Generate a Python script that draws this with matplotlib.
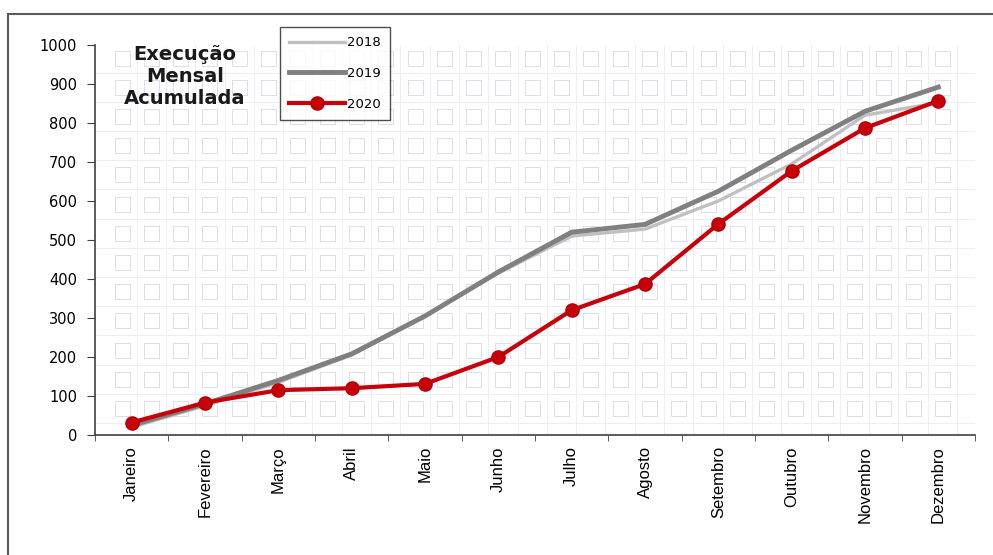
import numpy as np
import matplotlib.pyplot as plt
from matplotlib.patches import Rectangle

# Monthly accumulated execution
meses = ["Janeiro", "Fevereiro", "Março", "Abril", "Maio", "Junho",
         "Julho", "Agosto", "Setembro", "Outubro", "Novembro", "Dezembro"]
v2018 = [20, 75, 135, 205, 305, 415, 510, 528, 600, 695, 820, 852]
v2019 = [25, 80, 140, 208, 305, 418, 520, 540, 625, 730, 830, 892]
v2020 = [32, 83, 115, 120, 131, 200, 320, 387, 541, 677, 787, 857]

fig = plt.figure(figsize=(9.93, 5.55), dpi=100)
ax = fig.add_axes([95 / 993, 1 - 435 / 555, 880 / 993, 390 / 555])

# outer frame (open to the right and bottom)
fig.patches.append(Rectangle((8 / 993, -0.1), 1.2, 1.1 - 14 / 555,
                             transform=fig.transFigure, fill=False,
                             edgecolor="#5a5a5a", lw=1.5))

# faint square-pattern background
W, H = 880, 390
tex = np.ones((H, W, 3))
lav = np.array([0.87, 0.87, 0.94])
period_x, period_y, sq = 29.3, 29.2, 15
for cx in np.arange(20, W - sq - 1, period_x):
    for cy in np.arange(6, H - sq - 10, period_y):
        x0, y0 = int(cx), int(cy)
        tex[y0:y0 + sq, x0] = lav
        tex[y0:y0 + sq, x0 + sq] = lav
        tex[y0, x0:x0 + sq + 1] = lav
        tex[y0 + sq, x0:x0 + sq + 1] = lav
for cx in np.arange(20 + sq / 2 + period_x / 2, W, period_x):
    tex[:, int(cx)] = np.array([0.93, 0.93, 0.97])
for cy in np.arange(6 + sq / 2 + period_y / 2, H - 10, period_y):
    tex[int(cy), :] = np.array([0.93, 0.93, 0.97])
ax.imshow(tex, extent=(-0.5, 11.5, 0, 1000), aspect="auto",
          interpolation="nearest", zorder=0)

x = np.arange(len(meses))
ax.plot(x, v2018, color="#c0c0c0", lw=2.4, label="2018", zorder=2)
ax.plot(x, v2019, color="#808080", lw=3.5, label="2019", zorder=3)
ax.plot(x, v2020, color="#c8000a", lw=3, marker="o", markersize=9.5,
        markeredgecolor="#b00008", label="2020", zorder=4)

ax.set_xlim(-0.5, 11.5)
ax.set_ylim(0, 1000)
ax.set_yticks(range(0, 1001, 100))
ax.set_xticks(x)
ax.set_xticklabels(meses, rotation=90, fontsize=12, family="Liberation Sans")
ax.set_xticks(np.arange(-0.5, 12, 1), minor=True)
ax.tick_params(axis="x", which="major", length=0, pad=8)
ax.tick_params(axis="x", which="minor", length=4, direction="out", color="#404040")
ax.tick_params(axis="y", length=6, direction="out", color="#404040",
               labelsize=10.5, pad=7)
for s in ("top", "right"):
    ax.spines[s].set_visible(False)
for s in ("left", "bottom"):
    ax.spines[s].set_color("#404040")
    ax.spines[s].set_linewidth(1.2)

fig.text(185 / 993, 1 - 77 / 555, "Execução\nMensal\nAcumulada", ha="center",
         va="center", fontsize=14, fontweight="bold", linespacing=1.2,
         color="#1a1a1a")

leg = ax.legend(loc="upper left", bbox_to_anchor=(280 / 993, 1 - 27 / 555),
                bbox_transform=fig.transFigure, fontsize=9.5, frameon=True,
                fancybox=False, handlelength=4.2, handletextpad=0.2,
                borderpad=0.7, labelspacing=1.35, borderaxespad=0)
leg.get_frame().set_edgecolor("#222222")
leg.get_frame().set_linewidth(1.0)

fig.savefig("out.png", dpi=100)
